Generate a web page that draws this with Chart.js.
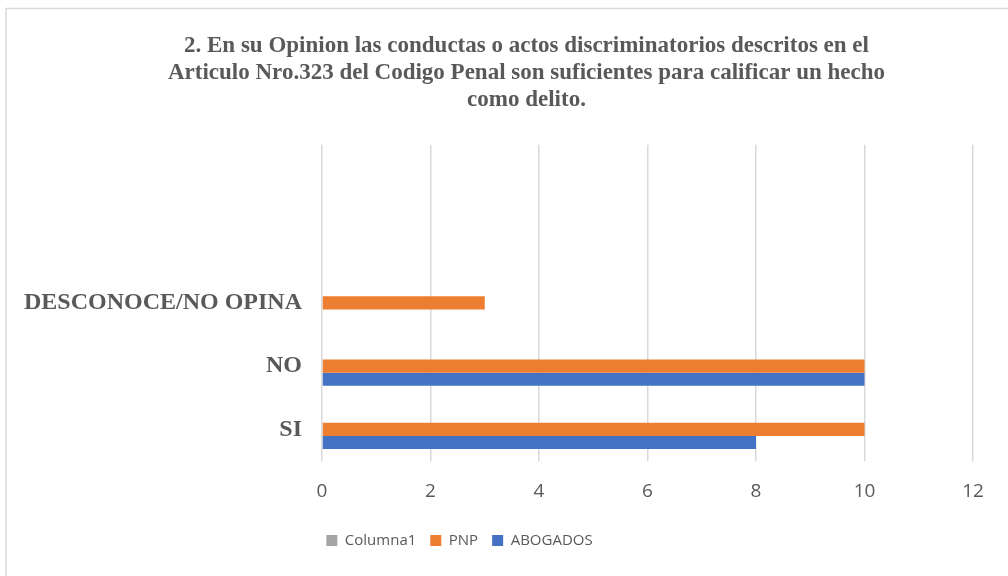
<!DOCTYPE html>
<html>
<head>
<meta charset="utf-8">
<script src="https://cdn.jsdelivr.net/npm/chart.js@4"></script>
<style>
html,body{margin:0;padding:0;background:#fff;}
#wrap{width:1008px;height:576px;position:relative;}
</style>
</head>
<body>
<div id="wrap"><canvas id="c" width="1008" height="576"></canvas></div>
<script>
const categories = ['', ' ', 'DESCONOCE/NO OPINA', 'NO', 'SI'];
const columna1 = [null, null, null, null, null];
const pnp = [null, null, 3, 10, 10];
const abogados = [null, null, null, 10, 8];
const xTicks = [0, 2, 4, 6, 8, 10, 12];
const titleLines = [
  '2. En su Opinion las conductas o actos discriminatorios descritos en el',
  'Articulo Nro.323 del Codigo Penal son suficientes para calificar un hecho',
  'como delito.'
];

const borderPlugin = {
  id: 'outerBorder',
  beforeDraw(chart) {
    const ctx = chart.ctx;
    ctx.save();
    ctx.fillStyle = '#ffffff';
    ctx.fillRect(0, 0, chart.width, chart.height);
    ctx.strokeStyle = '#D9D9D9';
    ctx.lineWidth = 1.5;
    ctx.strokeRect(6, 8.5, 1100, 700);
    ctx.restore();
  },
  afterLayout(chart) {
    if (chart.legend) {
      chart.legend.left -= 32;
      chart.legend.right -= 32;
    }
    if (chart.titleBlock) {
      chart.titleBlock.left += 35;
      chart.titleBlock.right += 35;
    }
  }
};

new Chart(document.getElementById('c'), {
  type: 'bar',
  data: {
    labels: categories,
    datasets: [
      { label: 'Columna1', data: columna1, backgroundColor: '#A5A5A5' },
      { label: 'PNP', data: pnp, backgroundColor: '#ED7D31' },
      { label: 'ABOGADOS', data: abogados, backgroundColor: '#4472C4' }
    ]
  },
  options: {
    indexAxis: 'y',
    responsive: false,
    animation: false,
    categoryPercentage: 0.62,
    barPercentage: 1.0,
    layout: { padding: { left: 10, right: 35, top: 33, bottom: 18 } },
    plugins: {
      title: {
        display: true,
        text: titleLines,
        color: '#595959',
        font: { family: '"Liberation Serif", "Times New Roman", serif', size: 23, weight: 'bold', lineHeight: 1.17 },
        padding: { top: 0, bottom: 31 }
      },
      legend: {
        position: 'bottom',
        labels: {
          color: '#595959',
          font: { family: '"Open Sans", "Liberation Sans", sans-serif', size: 15 },
          boxWidth: 11,
          boxHeight: 11,
          padding: 14
        }
      },
      tooltip: { enabled: false }
    },
    scales: {
      x: {
        min: 0,
        max: 12,
        afterBuildTicks(scale) { scale.ticks = xTicks.map(v => ({ value: v })); },
        grid: { color: '#D9D9D9', lineWidth: 1.5, drawTicks: false },
        border: { display: false },
        ticks: {
          color: '#595959',
          font: { family: '"Open Sans", "Liberation Sans", sans-serif', size: 19 },
          padding: 19
        },
        afterFit(scale) { scale.height = 58; }
      },
      y: {
        grid: { display: false, drawTicks: false },
        border: { display: false },
        ticks: {
          color: '#595959',
          font: { family: '"Liberation Serif", "Times New Roman", serif', size: 24, weight: 'bold' },
          padding: 20
        },
        afterFit(scale) { scale.width = 312; }
      }
    }
  },
  plugins: [borderPlugin]
});
</script>
</body>
</html>
